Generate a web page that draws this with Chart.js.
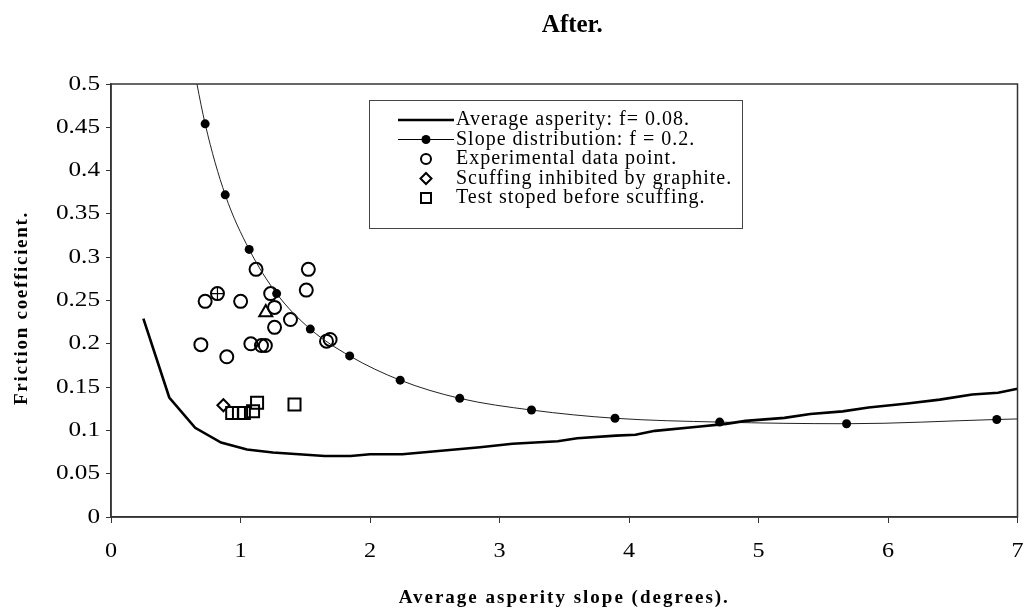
<!DOCTYPE html>
<html>
<head>
<meta charset="utf-8">
<title>After.</title>
<script src="https://cdn.jsdelivr.net/npm/chart.js"></script>
<style>
  html, body { margin: 0; padding: 0; background: #fff; }
  #chart { display: block; }
</style>
</head>
<body>
<canvas id="chart" width="1028" height="610"></canvas>
<script>
// Datos
const xTickLabels = ['0', '1', '2', '3', '4', '5', '6', '7'];
const yTickLabels = ['0', '0.05', '0.1', '0.15', '0.2', '0.25', '0.3', '0.35', '0.4', '0.45', '0.5'];

// Average asperity: f = 0.08 (línea gruesa)
const avgX = [0.25, 0.45, 0.65, 0.85, 1.05, 1.25, 1.45, 1.65, 1.85, 2.0, 2.25, 2.55, 2.85, 3.1, 3.45, 3.6, 3.9, 4.05, 4.2, 4.55, 4.75, 4.9, 5.2, 5.4, 5.65, 5.85, 6.15, 6.4, 6.65, 6.85, 7.0];
const avgY = [0.229, 0.138, 0.103, 0.086, 0.078, 0.0745, 0.0725, 0.0705, 0.0705, 0.0725, 0.0725, 0.0765, 0.0805, 0.0845, 0.0875, 0.091, 0.094, 0.095, 0.0995, 0.1045, 0.1075, 0.111, 0.1145, 0.119, 0.122, 0.1265, 0.131, 0.1355, 0.1415, 0.1435, 0.148];

// Slope distribution: f = 0.2 (línea fina con puntos)
const slopeX = [0.6, 0.727, 0.882, 1.067, 1.279, 1.539, 1.843, 2.233, 2.693, 3.247, 3.892, 4.70, 5.68, 6.84, 8.2];
const slopeY = [0.55, 0.454, 0.372, 0.309, 0.258, 0.217, 0.186, 0.158, 0.137, 0.1235, 0.114, 0.1096, 0.1077, 0.1126, 0.118];

// Experimental data points (círculos)
const expX = [1.120, 1.524, 1.508, 0.727, 0.822, 1.001, 1.233, 1.263, 1.263, 1.386, 1.664, 1.692, 0.694, 0.894, 1.080, 1.162, 1.192];
const expY = [0.286, 0.286, 0.262, 0.249, 0.258, 0.249, 0.258, 0.242, 0.219, 0.228, 0.203, 0.205, 0.199, 0.185, 0.200, 0.198, 0.198];

// Punto marcado con cruz y triángulo (sin leyenda)
const crossX = [0.822];
const crossY = [0.258];
const triX = [1.195];
const triY = [0.236];

// Scuffing inhibited by graphite (rombo)
const graphX = [0.868];
const graphY = [0.129];

// Test stoped before scuffing (cuadrados)
const stopX = [0.936, 0.988, 1.026, 1.097, 1.128, 1.417];
const stopY = [0.120, 0.120, 0.120, 0.122, 0.132, 0.130];

const titleText = 'After.';
const xTitleText = 'Average asperity slope (degrees).';
const yTitleText = 'Friction coefficient.';

const serif = "'Liberation Serif', 'Times New Roman', serif";

const toPoints = (xs, ys) => xs.map((x, i) => ({ x: x, y: ys[i] }));

// Marco del área de trazado (arriba y derecha)
const framePlugin = {
  id: 'frame',
  afterDatasetsDraw(chart) {
    const { ctx, chartArea: a } = chart;
    ctx.save();
    ctx.strokeStyle = '#333';
    ctx.lineWidth = 1.5;
    ctx.strokeRect(a.left, a.top, a.right - a.left, a.bottom - a.top);
    ctx.restore();
  }
};

// Etiquetas de ejes y títulos (la imagen original está algo estirada en horizontal)
const textPlugin = {
  id: 'texts',
  afterDraw(chart) {
    const { ctx, chartArea: a } = chart;
    const xs = chart.scales.x;
    const ys = chart.scales.y;
    ctx.save();
    ctx.fillStyle = '#000';

    ctx.font = '21px ' + serif;
    ctx.textBaseline = 'middle';
    ctx.textAlign = 'right';
    ys.ticks.forEach((t, i) => {
      ctx.save();
      ctx.translate(100, ys.getPixelForValue(t.value));
      ctx.scale(1.2, 1);
      ctx.fillText(yTickLabels[i], 0, 0);
      ctx.restore();
    });
    ctx.textBaseline = 'alphabetic';
    ctx.textAlign = 'center';
    xs.ticks.forEach((t, i) => {
      ctx.save();
      ctx.translate(xs.getPixelForValue(t.value), 557);
      ctx.scale(1.15, 1);
      ctx.fillText(xTickLabels[i], 0, 0);
      ctx.restore();
    });

    ctx.font = 'bold 25px ' + serif;
    ctx.fillText(titleText, (a.left + a.right) / 2 + 8, 32);

    ctx.font = 'bold 19px ' + serif;
    ctx.letterSpacing = '2px';
    ctx.fillText(xTitleText, (a.left + a.right) / 2, 603);

    ctx.letterSpacing = '1.7px';
    ctx.translate(27, 308);
    ctx.rotate(-Math.PI / 2);
    ctx.fillText(yTitleText, 0, 0);
    ctx.restore();
  }
};

// Leyenda dibujada dentro del gráfico, como en Excel
const boxLegendPlugin = {
  id: 'boxLegend',
  afterDraw(chart) {
    const { ctx } = chart;
    const box = { left: 369, top: 100, right: 742, bottom: 228 };
    const rowY = [120, 139.5, 159, 178.5, 198];
    const symX = 426;
    const textX = 456;
    ctx.save();
    ctx.fillStyle = '#fff';
    ctx.fillRect(box.left, box.top, box.right - box.left, box.bottom - box.top);
    ctx.strokeStyle = '#444';
    ctx.lineWidth = 1;
    ctx.strokeRect(box.left + 0.5, box.top + 0.5, box.right - box.left, box.bottom - box.top);

    const items = chart.data.datasets.filter(ds => ds.legendKind);
    items.forEach((ds, i) => {
      const y = rowY[i];
      ctx.strokeStyle = '#000';
      ctx.fillStyle = '#000';
      if (ds.legendKind === 'line') {
        ctx.lineWidth = 2.5;
        ctx.beginPath(); ctx.moveTo(398, y); ctx.lineTo(454, y); ctx.stroke();
      } else if (ds.legendKind === 'lineDot') {
        ctx.lineWidth = 1;
        ctx.beginPath(); ctx.moveTo(398, y); ctx.lineTo(454, y); ctx.stroke();
        ctx.beginPath(); ctx.arc(symX, y, 4.5, 0, Math.PI * 2); ctx.fill();
      } else if (ds.legendKind === 'circle') {
        ctx.lineWidth = 2;
        ctx.beginPath(); ctx.arc(symX, y, 5, 0, Math.PI * 2); ctx.stroke();
      } else if (ds.legendKind === 'diamond') {
        ctx.lineWidth = 2;
        ctx.beginPath();
        ctx.moveTo(symX, y - 5.5); ctx.lineTo(symX + 5.5, y); ctx.lineTo(symX, y + 5.5); ctx.lineTo(symX - 5.5, y);
        ctx.closePath(); ctx.stroke();
      } else if (ds.legendKind === 'square') {
        ctx.lineWidth = 2;
        ctx.strokeRect(symX - 5, y - 5, 10, 10);
      }
      ctx.font = '20px ' + serif;
      ctx.letterSpacing = '1px';
      ctx.textAlign = 'left';
      ctx.textBaseline = 'middle';
      ctx.fillText(ds.label, textX, y);
    });
    ctx.restore();
  }
};

new Chart(document.getElementById('chart'), {
  type: 'scatter',
  data: {
    datasets: [
      {
        label: 'Average asperity: f= 0.08.',
        legendKind: 'line',
        data: toPoints(avgX, avgY),
        showLine: true,
        borderColor: '#000',
        borderWidth: 2.6,
        pointRadius: 0,
        tension: 0
      },
      {
        label: 'Slope distribution: f = 0.2.',
        legendKind: 'lineDot',
        data: toPoints(slopeX, slopeY),
        showLine: true,
        borderColor: '#222',
        borderWidth: 1,
        cubicInterpolationMode: 'monotone',
        pointRadius: 4.5,
        pointBackgroundColor: '#000',
        pointBorderColor: '#000',
        pointBorderWidth: 0
      },
      {
        label: 'Experimental data point.',
        legendKind: 'circle',
        data: toPoints(expX, expY),
        pointStyle: 'circle',
        pointRadius: 6.5,
        pointBorderWidth: 2,
        pointBorderColor: '#000',
        pointBackgroundColor: 'rgba(0,0,0,0)'
      },
      {
        label: 'cross',
        data: toPoints(crossX, crossY),
        pointStyle: 'cross',
        pointRadius: 6,
        pointBorderWidth: 1.2,
        pointBorderColor: '#000'
      },
      {
        label: 'triangle',
        data: toPoints(triX, triY),
        pointStyle: 'triangle',
        pointRadius: 7.5,
        pointBorderWidth: 2,
        pointBorderColor: '#000',
        pointBackgroundColor: 'rgba(0,0,0,0)'
      },
      {
        label: 'Scuffing inhibited by graphite.',
        legendKind: 'diamond',
        data: toPoints(graphX, graphY),
        pointStyle: 'rectRot',
        pointRadius: 6,
        pointBorderWidth: 2,
        pointBorderColor: '#000',
        pointBackgroundColor: 'rgba(0,0,0,0)'
      },
      {
        label: 'Test stoped before scuffing.',
        legendKind: 'square',
        data: toPoints(stopX, stopY),
        pointStyle: 'rect',
        pointRadius: 8.5,
        pointBorderWidth: 2,
        pointBorderColor: '#000',
        pointBackgroundColor: 'rgba(0,0,0,0)'
      }
    ]
  },
  options: {
    responsive: false,
    animation: false,
    layout: { padding: { top: 84, right: 4, bottom: 0, left: 0 } },
    plugins: {
      legend: { display: false },
      tooltip: { enabled: false },
      title: { display: false }
    },
    scales: {
      x: {
        type: 'linear',
        min: 0,
        max: 7,
        afterFit: (s) => { s.height = 93; s.paddingLeft = 0; s.paddingRight = 0; },
        ticks: { stepSize: 1, display: false },
        grid: { drawOnChartArea: false, drawTicks: true, tickLength: 6, color: '#333' },
        border: { color: '#333', width: 1.5 }
      },
      y: {
        type: 'linear',
        min: 0,
        max: 0.5,
        afterFit: (s) => { s.width = 111; s.paddingTop = 0; s.paddingBottom = 0; },
        ticks: { stepSize: 0.05, display: false },
        grid: { drawOnChartArea: false, drawTicks: true, tickLength: 5, color: '#333' },
        border: { color: '#333', width: 1.5 }
      }
    }
  },
  plugins: [framePlugin, textPlugin, boxLegendPlugin]
});
</script>
</body>
</html>
